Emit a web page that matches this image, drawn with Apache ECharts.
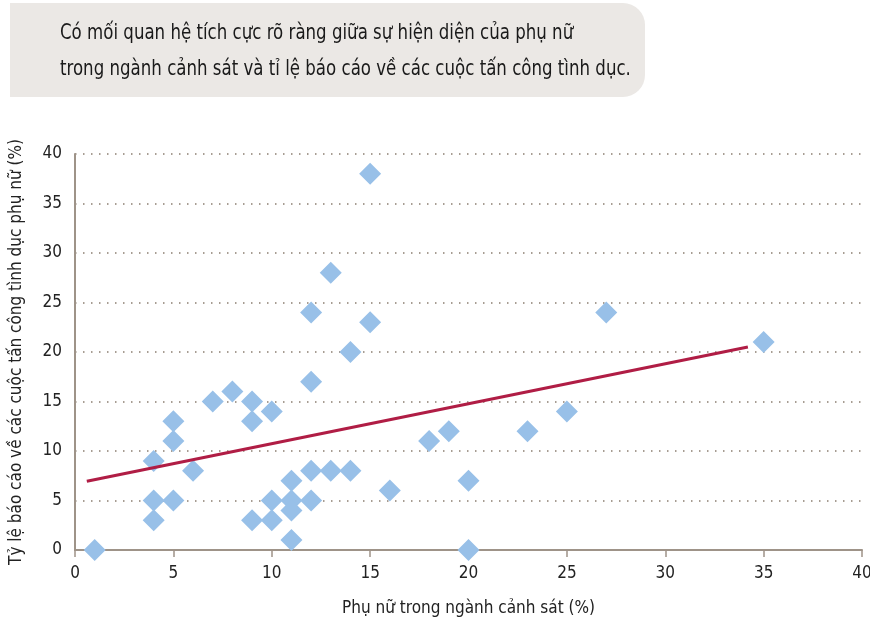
<!DOCTYPE html>
<html>
<head>
<meta charset="utf-8">
<script src="https://cdn.jsdelivr.net/npm/echarts@6/dist/echarts.min.js"></script>
<style>
  html, body { margin: 0; padding: 0; background: #fff; }
  #chart { width: 870px; height: 626px; }
</style>
</head>
<body>
<div id="chart"></div>
<script>
// Data
const womenPolice = [1, 4, 4, 4, 5, 5, 5, 6, 7, 8, 9, 9, 9, 10, 10, 10, 11, 11, 11, 11, 12, 12, 12, 12, 13, 13, 14, 14, 15, 15, 16, 18, 19, 20, 20, 23, 25, 27, 35];
const reportRate = [0, 9, 5, 3, 13, 11, 5, 8, 15, 16, 15, 13, 3, 14, 5, 3, 7, 5, 4, 1, 24, 17, 8, 5, 28, 8, 20, 8, 38, 23, 6, 11, 12, 7, 0, 12, 14, 24, 21];
const trendX = [0.6, 34.2];
const trendY = [6.95, 20.5];
const titleLines = [
    'Có mối quan hệ tích cực rõ ràng giữa sự hiện diện của phụ nữ',
    'trong ngành cảnh sát và tỉ lệ báo cáo về các cuộc tấn công tình dục.'
];

const font = "'Liberation Sans Narrow', 'DejaVu Sans Condensed', 'Noto Sans', sans-serif";
const axisColor = '#9e9388';

const chart = echarts.init(document.getElementById('chart'));

chart.setOption({
    animation: false,
    textStyle: { fontFamily: font },
    graphic: [
        {
            type: 'rect',
            left: 10, top: 3,
            shape: { width: 635, height: 94, r: [0, 22, 22, 0] },
            style: { fill: '#ebe8e5' }
        },
        {
            type: 'text',
            x: 60, y: 16,
            scaleX: 0.88,
            style: {
                text: titleLines.join('\n'),
                font: '21px ' + font,
                lineHeight: 36,
                fill: '#1a1a1a'
            }
        }
    ],
    grid: { left: 75, right: 8, top: 154, bottom: 76, outerBoundsMode: 'none' },
    xAxis: {
        type: 'value',
        min: 0, max: 40, interval: 5,
        name: 'Phụ nữ trong ngành cảnh sát (%)',
        nameLocation: 'middle',
        nameGap: 50,
        nameTextStyle: { fontSize: 17, color: '#222', fontFamily: font },
        axisLine: { lineStyle: { color: axisColor, width: 2 } },
        axisTick: { show: true, length: 7, lineStyle: { color: axisColor, width: 1.5 } },
        axisLabel: { fontSize: 17, color: '#222', margin: 15, fontFamily: font },
        splitLine: { show: false }
    },
    yAxis: {
        type: 'value',
        min: 0, max: 40, interval: 5,
        name: 'Tỷ lệ báo cáo về các cuộc tấn công tình dục phụ nữ (%)',
        nameLocation: 'middle',
        nameGap: 50,
        nameRotate: 90,
        nameTextStyle: { fontSize: 17, color: '#222', fontFamily: font },
        axisLine: { show: true, lineStyle: { color: axisColor, width: 2 } },
        axisTick: { show: false },
        axisLabel: { fontSize: 17, color: '#222', margin: 13, fontFamily: font },
        splitLine: { show: true, lineStyle: { color: '#8a7d70', type: [1.5, 6.5], width: 1.5 } }
    },
    series: [
        {
            type: 'scatter',
            symbol: 'diamond',
            symbolSize: [22, 22],
            itemStyle: { color: '#98c0e8', opacity: 1 },
            data: womenPolice.map((x, i) => [x, reportRate[i]]),
            z: 3
        },
        {
            type: 'line',
            symbol: 'none',
            lineStyle: { color: '#b01d45', width: 3 },
            data: trendX.map((x, i) => [x, trendY[i]]),
            z: 4
        }
    ]
});
</script>
</body>
</html>
